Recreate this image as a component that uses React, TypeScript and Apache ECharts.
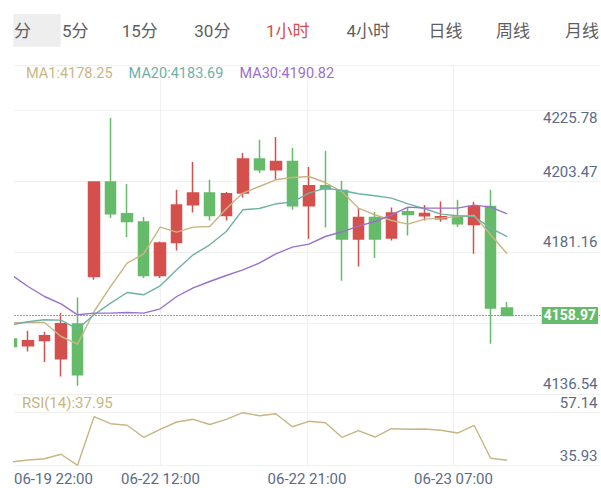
import React, { useEffect, useRef } from 'react';
import * as echarts from 'echarts';

// ---------- data ----------
const TIMES = [
  '06-19 22:00', '06-19 23:00', '06-20 00:00', '06-20 01:00', '06-20 02:00',
  '06-22 08:00', '06-22 09:00', '06-22 10:00', '06-22 11:00', '06-22 12:00',
  '06-22 13:00', '06-22 14:00', '06-22 15:00', '06-22 16:00', '06-22 17:00',
  '06-22 18:00', '06-22 19:00', '06-22 20:00', '06-22 21:00', '06-22 22:00',
  '06-22 23:00', '06-23 00:00', '06-23 01:00', '06-23 02:00', '06-23 03:00',
  '06-23 04:00', '06-23 06:00', '06-23 07:00', '06-23 08:00', '06-23 09:00',
  '06-23 10:00',
];
const OPEN = [
  4151.10, 4148.87, 4150.64, 4144.54, 4156.10, 4171.97, 4203.44, 4192.87, 4190.10, 4172.30,
  4183.30, 4195.87, 4199.77, 4192.30, 4199.77, 4211.10, 4207.54, 4210.30, 4195.54, 4202.20,
  4200.64, 4184.44, 4191.64, 4184.77, 4193.54, 4192.20, 4191.20, 4191.97, 4189.30, 4195.30,
  4161.44,
];
const CLOSE = [
  4148.64, 4150.54, 4152.20, 4156.20, 4139.20, 4203.44, 4192.87, 4190.30, 4172.30, 4183.10,
  4195.77, 4199.77, 4192.30, 4199.54, 4211.10, 4207.54, 4210.30, 4195.54, 4202.20, 4201.10,
  4184.44, 4191.64, 4184.44, 4193.10, 4192.64, 4192.97, 4191.87, 4189.54, 4195.30, 4161.44,
  4158.97,
];
const LOW = [
  4148.20, 4146.97, 4143.44, 4138.64, 4135.54, 4170.87, 4191.44, 4185.10, 4171.44, 4171.44,
  4180.64, 4193.30, 4190.64, 4190.64, 4198.30, 4206.44, 4204.20, 4194.20, 4184.54, 4188.30,
  4170.54, 4175.30, 4178.10, 4183.97, 4185.64, 4190.64, 4190.20, 4188.44, 4179.54, 4149.54,
  4158.97,
];
const HIGH = [
  4151.54, 4153.87, 4153.44, 4159.77, 4164.97, 4203.64, 4224.77, 4202.77, 4191.77, 4183.64,
  4200.87, 4210.10, 4204.20, 4200.10, 4213.10, 4217.54, 4218.44, 4214.77, 4208.44, 4213.87,
  4203.87, 4194.77, 4193.44, 4194.97, 4195.10, 4195.77, 4196.97, 4197.54, 4196.77, 4200.87,
  4163.44,
];
const MA1 = [
  4156.54, 4156.64, 4156.64, 4151.97, 4149.44, 4160.30, 4168.64, 4176.44, 4179.54, 4188.44,
  4186.77, 4188.44, 4188.64, 4194.54, 4199.77, 4201.97, 4204.20, 4204.97, 4205.30, 4203.30,
  4200.20, 4194.77, 4192.54, 4190.64, 4189.44, 4191.10, 4191.44, 4191.97, 4192.30, 4185.87,
  4179.54,
];
const MA20 = [
  4155.87, 4156.87, 4157.54, 4157.44, 4154.44, 4159.20, 4163.10, 4166.64, 4165.87, 4168.87,
  4174.20, 4179.20, 4182.54, 4186.97, 4194.20, 4194.64, 4196.20, 4196.77, 4199.77, 4201.44,
  4200.64, 4199.54, 4198.87, 4198.10, 4196.20, 4194.54, 4192.77, 4192.20, 4191.97, 4188.10,
  4185.30,
];
const MA30 = [
  4172.54, 4168.64, 4165.30, 4162.87, 4159.20, 4159.77, 4159.77, 4159.97, 4159.77, 4161.20,
  4165.30, 4168.20, 4170.30, 4172.30, 4174.20, 4176.44, 4179.54, 4181.77, 4182.77, 4185.30,
  4186.87, 4188.77, 4190.30, 4192.54, 4195.10, 4194.77, 4194.77, 4194.77, 4195.77, 4195.10,
  4192.87,
];
const RSI = [
  37.26, 38.07, 38.59, 40.37, 35.93, 55.53, 52.70, 52.06, 47.22, 50.45,
  53.39, 54.48, 52.38, 54.48, 57.14, 55.93, 56.74, 51.49, 53.67, 53.11,
  47.22, 49.88, 47.34, 50.69, 50.45, 50.57, 50.04, 48.95, 52.06, 38.75,
  37.95,
];
const PRICE_TICKS = ['4136.54', '4158.85', '4181.16', '4203.47', '4225.78'];
const RSI_TICKS = ['35.93', '57.14'];
const MA_NAMES = ['MA1', 'MA20', 'MA30'];
const MA_LEGEND_VALUES = ['4178.25', '4183.69', '4190.82'];
const RSI_NAME = 'RSI(14)';
const RSI_LEGEND_VALUE = '37.95';
const CURRENT_PRICE = 4158.97;
const TABS = ['分', '5分', '15分', '30分', '1小时', '4小时', '日线', '周线', '月线'];
const ACTIVE_TAB = '1小时';

// ---------- layout / style ----------
const TAB_X = [14, 62, 121.7, 194.3, 266, 346.5, 428.4, 496, 565];
const RED = '#d5504d';
const GREEN = '#66bb6a';
const TAN = '#c9b583';
const TEAL = '#6fb1a5';
const PURPLE = '#9a70cc';
const LABEL = '#5b6a86';
const GRIDC = '#f0f0f0';
const FONT = 'Roboto, "Noto Sans CJK SC", sans-serif';

const X_MIN = 0.153;
const X_MAX = 35.62;
const PRICE_AXIS_MIN = 4132.80;
const PRICE_AXIS_MAX = 4242.47;
const PRICE_ROWS = 4.645;
const RSI_ROWS = 1.3555;
const RSI_LO = Number(RSI_TICKS[0]);
const RSI_HI = Number(RSI_TICKS[1]);

const isInt = (v: number) => Math.abs(v - Math.round(v)) < 1e-6;

export default function App() {
  const ref = useRef<HTMLDivElement>(null);
  useEffect(() => {
    if (!ref.current) return;
    const chart = echarts.init(ref.current, null, { renderer: 'svg' });

    const splitLine = { show: true, lineStyle: { color: GRIDC, width: 1 } };
    const hiddenAxisParts = { axisLine: { show: false }, axisTick: { show: false } };

    const xLabelAxis = (gridIndex: number, showLabels: boolean) => ({
      type: 'value', gridIndex, min: 0, max: 4, interval: 1, position: 'bottom',
      ...hiddenAxisParts,
      splitLine: { ...splitLine, showMinLine: false, showMaxLine: false },
      axisLabel: showLabels
        ? {
            show: true, margin: 6.5, fontSize: 15, color: LABEL, fontFamily: FONT,
            alignMinLabel: 'left',
            formatter: (v: number) => {
              const idx = Math.round(X_MIN + (v * (X_MAX - X_MIN)) / 4);
              return TIMES[idx] ?? '';
            },
          }
        : { show: false },
    });

    const graphic: any[] = [
      { type: 'rect', shape: { x: 13.3, y: 14, width: 47.4, height: 32.7 }, style: { fill: '#eeeeee' }, silent: true },
      ...TABS.map((t, i) => ({
        type: 'text', x: TAB_X[i], y: 30.5, silent: true,
        style: {
          text: t, fontSize: 17, fontFamily: FONT,
          fill: t === ACTIVE_TAB ? RED : '#5e5e5e',
          verticalAlign: 'middle', align: 'left',
        },
      })),
      // mask: the chart is scrolled, so the first candle is cut at the plot's left edge
      { type: 'rect', shape: { x: 0, y: 100, width: 14, height: 294 }, style: { fill: '#ffffff' }, silent: true, z: 100 },
    ];

    const maColors = [TAN, TEAL, PURPLE];
    const maData = [MA1, MA20, MA30];

    const option: any = {
      animation: false,
      textStyle: { fontFamily: FONT },
      graphic,
      legend: [
        {
          data: MA_NAMES.map((n, i) => ({ name: n, textStyle: { color: maColors[i] } })),
          left: 21, top: 66, icon: 'none', itemWidth: 0, itemHeight: 15, itemGap: 11, padding: 0,
          selectedMode: false,
          textStyle: { fontSize: 14.5, fontFamily: FONT, lineHeight: 15 },
          formatter: (name: string) => `${name}:${MA_LEGEND_VALUES[MA_NAMES.indexOf(name)]}`,
        },
        {
          data: [{ name: RSI_NAME, textStyle: { color: TAN } }],
          left: 17, top: 395.2, icon: 'none', itemWidth: 0, itemHeight: 15, padding: 0,
          selectedMode: false,
          textStyle: { fontSize: 15, fontFamily: FONT, lineHeight: 15 },
          formatter: (name: string) => `${name}:${RSI_LEGEND_VALUE}`,
        },
      ],
      grid: [
        { left: 14, right: 1, top: 65, height: 329, outerBoundsMode: 'none' },
        { left: 14, right: 1, top: 394, height: 71.3, outerBoundsMode: 'none' },
      ],
      xAxis: [
        { type: 'value', gridIndex: 0, min: X_MIN, max: X_MAX, show: false },
        xLabelAxis(0, false),
        { type: 'value', gridIndex: 1, min: X_MIN, max: X_MAX, show: false },
        xLabelAxis(1, true),
      ],
      yAxis: [
        { type: 'value', gridIndex: 0, min: PRICE_AXIS_MIN, max: PRICE_AXIS_MAX, show: false },
        {
          type: 'value', gridIndex: 0, min: 0, max: PRICE_ROWS, interval: 1, position: 'right',
          ...hiddenAxisParts, splitLine,
          axisLabel: {
            inside: true, margin: 2.5, verticalAlign: 'bottom', lineHeight: 20,
            fontSize: 15, color: LABEL, fontFamily: FONT,
            formatter: (v: number) => {
              if (!isInt(v)) return '';
              const i = Math.round(v);
              if (i === 1 || i >= PRICE_TICKS.length - 1) return '';
              return PRICE_TICKS[i];
            },
          },
        },
        {
          type: 'value', gridIndex: 0, min: 0, max: PRICE_ROWS, interval: 1, position: 'right',
          ...hiddenAxisParts, splitLine: { show: false },
          axisLabel: {
            inside: true, margin: 2.5, verticalAlign: 'top', lineHeight: 15,
            fontSize: 15, color: LABEL, fontFamily: FONT,
            formatter: (v: number) =>
              isInt(v) && Math.round(v) === PRICE_TICKS.length - 1 ? PRICE_TICKS[PRICE_TICKS.length - 1] : '',
          },
        },
        {
          type: 'value', gridIndex: 1, min: RSI_LO, max: RSI_LO + (RSI_HI - RSI_LO) * RSI_ROWS, show: false,
        },
        {
          type: 'value', gridIndex: 1, min: 0, max: RSI_ROWS, interval: 1, position: 'right',
          ...hiddenAxisParts, splitLine,
          axisLabel: {
            inside: true, margin: 2.5, verticalAlign: 'bottom', lineHeight: 19.5,
            fontSize: 15, color: LABEL, fontFamily: FONT,
            formatter: (v: number) => (isInt(v) && RSI_TICKS[Math.round(v)]) || '',
          },
        },
      ],
      series: [
        {
          type: 'candlestick', name: 'K', xAxisIndex: 0, yAxisIndex: 0,
          data: OPEN.map((o, i) => [i, o, CLOSE[i], LOW[i], HIGH[i]]),
          barWidth: 11, clip: true,
          itemStyle: { color: RED, color0: GREEN, borderColor: RED, borderColor0: GREEN, borderWidth: 1.5 },
          markLine: {
            silent: true, symbol: ['none', 'none'],
            data: [{ yAxis: CURRENT_PRICE }],
            lineStyle: { color: GREEN, type: [2, 1], width: 1 },
            label: {
              position: 'insideEnd', distance: 2, formatter: CURRENT_PRICE.toFixed(2),
              color: '#ffffff', backgroundColor: GREEN, padding: [1, 2],
              fontSize: 14, fontWeight: 'bold', lineHeight: 15, fontFamily: FONT,
            },
            emphasis: { disabled: true },
          },
          z: 2,
        },
        ...MA_NAMES.map((n, si) => ({
          type: 'line', name: n, xAxisIndex: 0, yAxisIndex: 0,
          data: maData[si].map((v, i) => [i, v]),
          showSymbol: false, symbol: 'none', silent: true,
          lineStyle: { color: maColors[si], width: 1.4 },
          itemStyle: { color: maColors[si] },
          z: 3,
        })),
        {
          type: 'line', name: RSI_NAME, xAxisIndex: 2, yAxisIndex: 3,
          data: RSI.map((v, i) => [i, v]),
          showSymbol: false, symbol: 'none', silent: true,
          lineStyle: { color: TAN, width: 1.4 },
          itemStyle: { color: TAN },
        },
      ],
    };

    chart.setOption(option);
    return () => chart.dispose();
  }, []);

  return (
    <div
      ref={ref}
      style={{ position: 'fixed', left: 0, top: 0, width: 601, height: 488, background: '#ffffff' }}
    />
  );
}
